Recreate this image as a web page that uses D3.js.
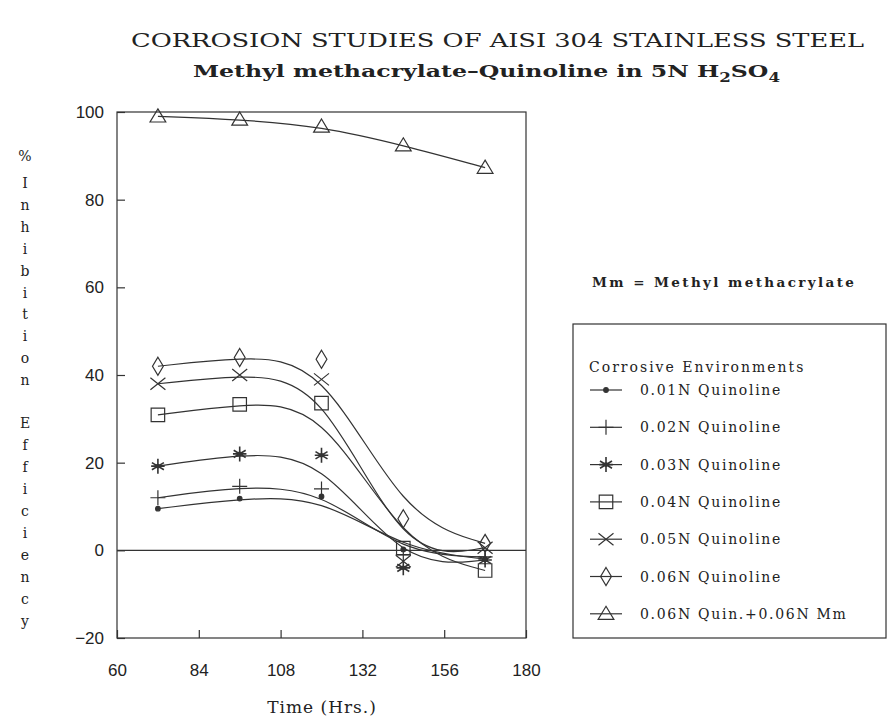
<!DOCTYPE html>
<html>
<head>
<meta charset="utf-8">
<script src="https://cdn.jsdelivr.net/npm/d3@7"></script>
<style>
  html, body { margin: 0; padding: 0; background: #fff; }
  svg { display: block; }
</style>
</head>
<body>
<svg id="chart" width="889" height="720"></svg>
<script>
// ---------- data ----------
const hours = [72, 96, 120, 144, 168];
const seriesNames = [
  "0.01N Quinoline",
  "0.02N Quinoline",
  "0.03N Quinoline",
  "0.04N Quinoline",
  "0.05N Quinoline",
  "0.06N Quinoline",
  "0.06N Quin.+0.06N Mm"
];
const q001 = [9.5, 11.8, 12.3, 0.2, -2.0];
const q002 = [12.0, 14.6, 14.0, -1.0, -1.5];
const q003 = [19.2, 22.0, 21.7, -4.0, -2.2];
const q004 = [30.9, 33.3, 33.6, 0.5, -4.6];
const q005 = [38.0, 40.0, 39.0, -2.5, 0.6];
const q006 = [42.0, 44.0, 43.6, 7.2, 1.6];
const q006mm = [99.0, 98.3, 96.7, 92.4, 87.3];
const seriesValues = [q001, q002, q003, q004, q005, q006, q006mm];
const markerTypes = ["dot", "plus", "star", "square", "cross", "diamond", "triangle"];
const xTicks = [60, 84, 108, 132, 156, 180];
const yTicks = [-20, 0, 20, 40, 60, 80, 100];
const titleLine1 = "CORROSION STUDIES OF AISI 304 STAINLESS STEEL";
const yLabelWords = ["%", "Inhibition", "Efficiency"];
const xLabel = "Time (Hrs.)";
const noteText = "Mm = Methyl methacrylate";
const legendTitle = "Corrosive Environments";

// ---------- layout ----------
const svg = d3.select("#chart");
const ink = "#333";
const x = d3.scaleLinear().domain([60, 180]).range([117, 526]);
const y = d3.scaleLinear().domain([-20, 100]).range([638, 112]);
const serif = "'DejaVu Serif', 'Liberation Serif', serif";
const sans = "'Liberation Sans', Arial, sans-serif";

// marker path generator
function markerPath(type, r) {
  const p = d3.path();
  switch (type) {
    case "dot":
      p.arc(0, 0, 2.3, 0, 2 * Math.PI);
      break;
    case "plus":
      p.moveTo(-r, 0); p.lineTo(r, 0);
      p.moveTo(0, -r); p.lineTo(0, r);
      break;
    case "star": {
      const s = r * 0.8;
      p.moveTo(0, -r); p.lineTo(0, r);
      p.moveTo(-s, -s * 0.6); p.lineTo(s, s * 0.6);
      p.moveTo(-s, s * 0.6); p.lineTo(s, -s * 0.6);
      p.moveTo(-r * 0.9, 0); p.lineTo(r * 0.9, 0);
      break;
    }
    case "square":
      p.rect(-r * 0.9, -r * 0.9, r * 1.8, r * 1.8);
      break;
    case "cross":
      p.moveTo(-r, -r * 0.8); p.lineTo(r, r * 0.8);
      p.moveTo(-r, r * 0.8); p.lineTo(r, -r * 0.8);
      break;
    case "diamond":
      p.moveTo(0, -r * 1.2); p.lineTo(r * 0.72, 0); p.lineTo(0, r * 1.2); p.lineTo(-r * 0.72, 0); p.closePath();
      break;
    case "triangle":
      p.moveTo(0, -r); p.lineTo(r * 1.05, r * 0.75); p.lineTo(-r * 1.05, r * 0.75); p.closePath();
      break;
  }
  return p.toString();
}

function drawMarker(g, type, cx, cy) {
  const m = g.append("g").attr("transform", `translate(${cx},${cy})`);
  m.append("path")
    .attr("d", markerPath(type, 7.5))
    .attr("fill", type === "dot" ? ink : "none")
    .attr("stroke", ink)
    .attr("stroke-width", type === "star" ? 1.6 : 1.2);
  if (type === "star") {
    m.append("circle").attr("r", 2.3).attr("fill", ink);
  }
}

// ---------- titles ----------
svg.append("text")
  .attr("x", 131).attr("y", 47)
  .attr("textLength", 733).attr("lengthAdjust", "spacingAndGlyphs")
  .attr("font-family", serif).attr("font-size", 18).attr("fill", "#222")
  .text(titleLine1);

const t2 = svg.append("text")
  .attr("x", 193).attr("y", 77)
  .attr("textLength", 587).attr("lengthAdjust", "spacingAndGlyphs")
  .attr("font-family", serif).attr("font-size", 17).attr("font-weight", "bold")
  .attr("fill", "#222");
t2.append("tspan").text("Methyl methacrylate\u2013Quinoline in 5N H");
t2.append("tspan").attr("font-size", 12).attr("dy", 5).text("2");
t2.append("tspan").attr("dy", -5).text("SO");
t2.append("tspan").attr("font-size", 12).attr("dy", 5).text("4");

// ---------- frame & axes ----------
const plot = svg.append("g");
plot.append("rect")
  .attr("x", x(60)).attr("y", y(100))
  .attr("width", x(180) - x(60)).attr("height", y(-20) - y(100))
  .attr("fill", "none").attr("stroke", ink).attr("stroke-width", 1.2);

// zero line
plot.append("line")
  .attr("x1", x(60)).attr("x2", x(180))
  .attr("y1", y(0)).attr("y2", y(0))
  .attr("stroke", ink).attr("stroke-width", 1.2);

const xAxis = d3.axisBottom(x).tickValues(xTicks).tickSizeInner(-8).tickSizeOuter(0).tickPadding(26);
const gx = svg.append("g").attr("transform", `translate(0,${y(-20)})`).call(xAxis);
gx.select(".domain").remove();
gx.selectAll("line").attr("stroke", ink).attr("stroke-width", 1.2);
gx.selectAll("text").attr("font-family", sans).attr("font-size", 17).attr("fill", "#222");

const yAxis = d3.axisLeft(y).tickValues(yTicks).tickSizeInner(-8).tickSizeOuter(0).tickPadding(13);
const gy = svg.append("g").attr("transform", `translate(${x(60)},0)`).call(yAxis);
gy.select(".domain").remove();
gy.selectAll("line").attr("stroke", ink).attr("stroke-width", 1.2);
gy.selectAll("text").attr("font-family", sans).attr("font-size", 17).attr("fill", "#222");

// axis labels
svg.append("text")
  .attr("x", 322).attr("y", 713).attr("text-anchor", "middle")
  .attr("font-family", serif).attr("font-size", 17).attr("fill", "#222")
  .attr("letter-spacing", 1)
  .text(xLabel);

// vertical stacked y label
const yl = svg.append("g").attr("font-family", serif).attr("font-size", 14).attr("fill", "#222").attr("text-anchor", "middle");
yl.append("text").attr("x", 25).attr("y", 161).text(yLabelWords[0]);
Array.from(yLabelWords[1]).forEach((c, i) => {
  yl.append("text").attr("x", 25).attr("y", 188 + i * 21.9).text(c);
});
Array.from(yLabelWords[2]).forEach((c, i) => {
  yl.append("text").attr("x", 25).attr("y", 428 + i * 22).text(c);
});

// ---------- series ----------
const line = d3.line()
  .x(d => x(d[0]))
  .y(d => y(d[1]))
  .curve(d3.curveBasis);

seriesValues.forEach((vals, si) => {
  const pts = hours.map((h, i) => [h, vals[i]]);
  plot.append("path")
    .attr("d", line(pts))
    .attr("fill", "none")
    .attr("stroke", ink)
    .attr("stroke-width", 1.2);
  pts.forEach(p => drawMarker(plot, markerTypes[si], x(p[0]), y(p[1])));
});

// ---------- note & legend ----------
svg.append("text")
  .attr("x", 592).attr("y", 287)
  .attr("font-family", serif).attr("font-size", 13.5).attr("font-weight", "bold")
  .attr("fill", "#222").attr("letter-spacing", 2.4)
  .text(noteText);

const lg = svg.append("g");
lg.append("rect")
  .attr("x", 573).attr("y", 324).attr("width", 313).attr("height", 314)
  .attr("fill", "none").attr("stroke", ink).attr("stroke-width", 1.2);
lg.append("text")
  .attr("x", 589).attr("y", 372)
  .attr("font-family", serif).attr("font-size", 14).attr("fill", "#222")
  .attr("letter-spacing", 2)
  .text(legendTitle);

seriesNames.forEach((name, i) => {
  const cy = 390 + i * 37.3;
  lg.append("line").attr("x1", 590).attr("x2", 622).attr("y1", cy).attr("y2", cy)
    .attr("stroke", ink).attr("stroke-width", 1.2);
  drawMarker(lg, markerTypes[i], 606, cy);
  lg.append("text")
    .attr("x", 640).attr("y", cy + 5)
    .attr("font-family", serif).attr("font-size", 14).attr("fill", "#222")
    .attr("letter-spacing", 1.7)
    .text(name);
});
</script>
</body>
</html>
